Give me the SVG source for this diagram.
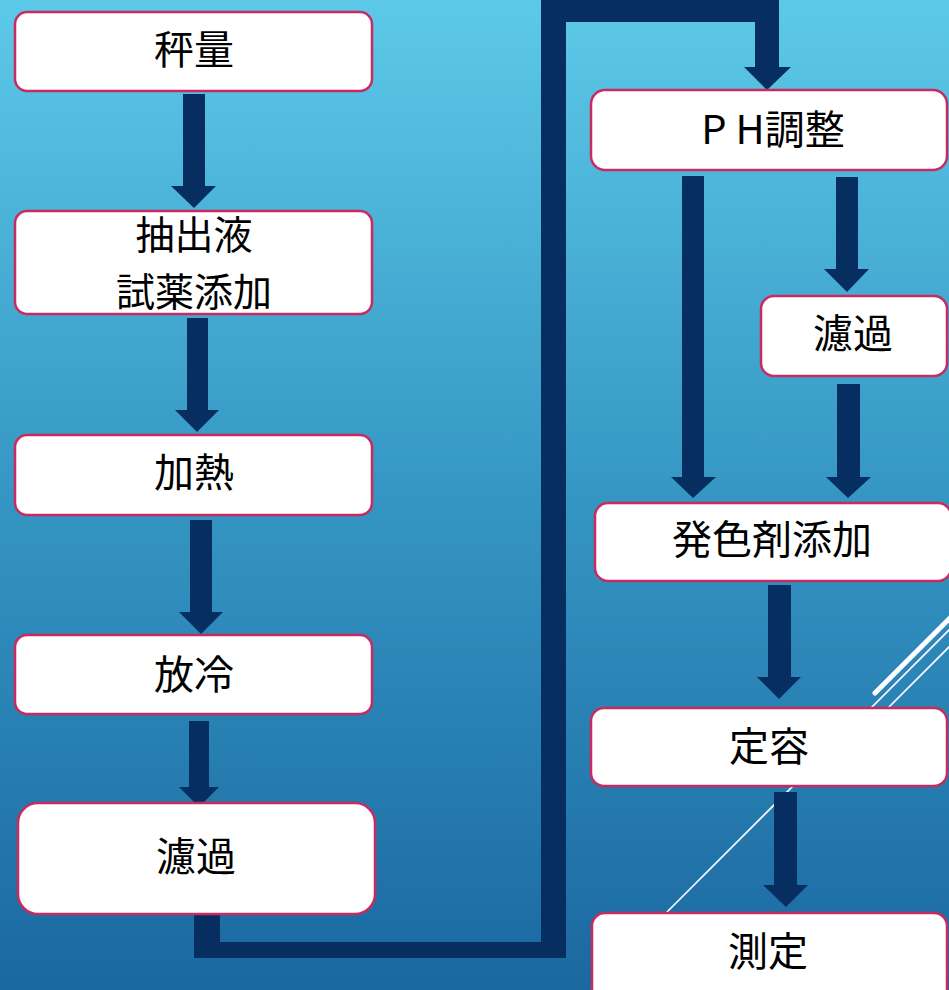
<svg xmlns="http://www.w3.org/2000/svg" width="949" height="990" viewBox="0 0 949 990">
  <defs>
    <linearGradient id="bg" x1="0" y1="0" x2="0" y2="1">
      <stop offset="0" stop-color="#5DC9E8"/>
      <stop offset="0.5" stop-color="#3596C3"/>
      <stop offset="1" stop-color="#1A68A0"/>
    </linearGradient>
    <style>
      .box { fill: #FFFFFF; stroke: #C92A60; stroke-width: 2.5; }
      .lbl { font-family: "Noto Sans CJK JP", "Noto Sans", sans-serif; font-size: 40px; fill: #000000; text-anchor: middle; dominant-baseline: central; }
      .lbl2 { font-size: 39px; }
      .arr { fill: #072E60; }
      .deco { stroke: #FFFFFF; fill: none; }
    </style>
  </defs>

  <rect x="0" y="0" width="949" height="990" fill="url(#bg)"/>

  <g id="decoration">
    <line class="deco" x1="875" y1="693" x2="960" y2="608" stroke-width="5" stroke-linecap="round"/>
    <line class="deco" x1="960" y1="619" x2="640" y2="939" stroke-width="1.6"/>
    <line class="deco" x1="960" y1="636" x2="870" y2="726" stroke-width="1.6"/>
  </g>

  <g id="connectors">
    <path class="arr" d="M194,914 L194,958 L566,958 L566,22 L755,22 L755,67 L744,67 L767,90 L791,67 L779,67 L779,-2 L541,-2 L541,942 L220,942 L220,914 Z"/>
    <path class="arr" d="M183,94 L205,94 L205,186 L216,186 L194,208 L171,186 L183,186 Z"/>
    <path class="arr" d="M187,318 L208,318 L208,410 L219,410 L197,432 L175,410 L187,410 Z"/>
    <path class="arr" d="M190,520 L212,520 L212,612 L223,612 L201,634 L179,612 L190,612 Z"/>
    <path class="arr" d="M189,721 L209,721 L209,787 L219,787 L199,807 L179,787 L189,787 Z"/>
    <path class="arr" d="M682,176 L704,176 L704,477 L716,477 L693,498 L671,477 L682,477 Z"/>
    <path class="arr" d="M836,177 L858,177 L858,269 L869,269 L847,292 L824,269 L836,269 Z"/>
    <path class="arr" d="M837,384 L860,384 L860,477 L871,477 L848,498 L826,477 L837,477 Z"/>
    <path class="arr" d="M768,585 L791,585 L791,677 L801,677 L779,699 L757,677 L768,677 Z"/>
    <path class="arr" d="M774,792 L797,792 L797,885 L808,885 L786,907 L763,885 L774,885 Z"/>
  </g>

  <g id="node-weigh">
    <rect class="box" x="15" y="12" width="357" height="79" rx="12"/>
    <text class="lbl" x="194" y="47">秤量</text>
  </g>
  <g id="node-extract">
    <rect class="box" x="15" y="211" width="357" height="103" rx="12"/>
    <text class="lbl lbl2" x="194" y="232">抽出液</text>
    <text class="lbl lbl2" x="194" y="289">試薬添加</text>
  </g>
  <g id="node-heat">
    <rect class="box" x="15" y="435" width="357" height="80" rx="12"/>
    <text class="lbl" x="194" y="470">加熱</text>
  </g>
  <g id="node-cool">
    <rect class="box" x="15" y="635" width="357" height="79" rx="12"/>
    <text class="lbl" x="194" y="672">放冷</text>
  </g>
  <g id="node-filter1">
    <rect class="box" x="18" y="803" width="357" height="111" rx="20"/>
    <text class="lbl" x="196" y="854">濾過</text>
  </g>
  <g id="node-ph">
    <rect class="box" x="591" y="90" width="356" height="80" rx="14"/>
    <text class="lbl" x="773" y="127">P H調整</text>
  </g>
  <g id="node-filter2">
    <rect class="box" x="761" y="296" width="186" height="80" rx="13"/>
    <text class="lbl" x="853" y="331">濾過</text>
  </g>
  <g id="node-color">
    <rect class="box" x="595" y="503" width="356" height="78" rx="13"/>
    <text class="lbl" x="772" y="537">発色剤添加</text>
  </g>
  <g id="node-volume">
    <rect class="box" x="591" y="708" width="356" height="78" rx="13"/>
    <text class="lbl" x="769" y="744">定容</text>
  </g>
  <g id="node-measure">
    <rect class="box" x="592" y="913" width="355" height="100" rx="13"/>
    <text class="lbl" x="768" y="949">測定</text>
  </g>
</svg>
